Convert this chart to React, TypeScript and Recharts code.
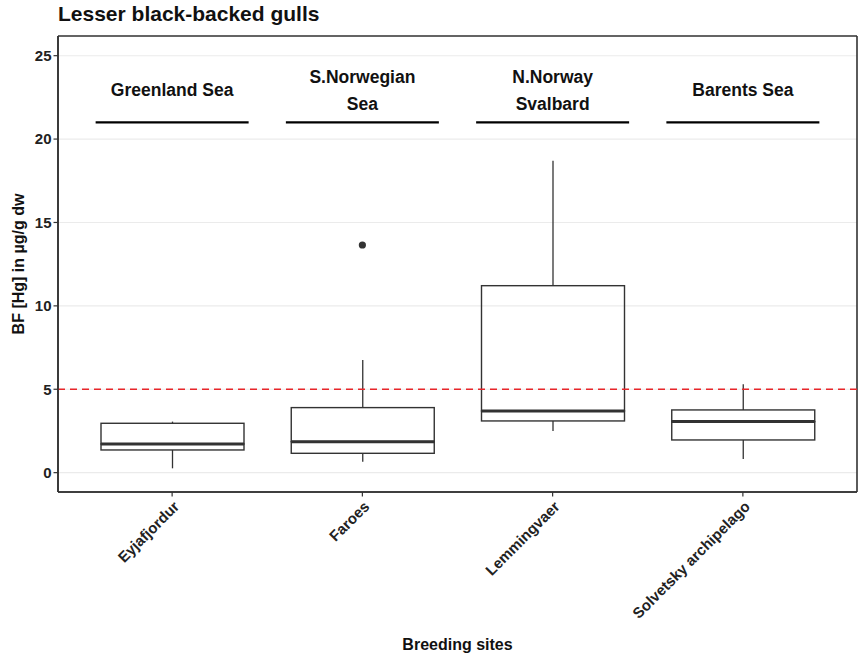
import React from 'react';
import { ComposedChart, Bar, XAxis, YAxis, CartesianGrid, ReferenceLine, ReferenceDot } from 'recharts';

// ---- data ----
const categories = ['Eyjafjordur', 'Faroes', 'Lemmingvaer', 'Solvetsky archipelago'];
const lowerWhisker = [0.26, 0.66, 2.5, 0.82];
const q1 = [1.36, 1.16, 3.1, 1.96];
const median = [1.72, 1.86, 3.7, 3.06];
const q3 = [2.96, 3.9, 11.21, 3.76];
const upperWhisker = [3.06, 6.76, 18.7, 5.3];
const outlierSites = ['Faroes'];
const outlierValues = [13.65];
const regions = [['Greenland Sea'], ['S.Norwegian', 'Sea'], ['N.Norway', 'Svalbard'], ['Barents Sea']];
const regionLineLevel = 21;
const regionLabelLevel = 22.94;
const threshold = 5;
const yTicks = [0, 5, 10, 15, 20, 25];

const data = categories.map((name, i) => ({
  name,
  base: lowerWhisker[i],
  wLow: q1[i] - lowerWhisker[i],
  boxLow: median[i] - q1[i],
  boxHigh: q3[i] - median[i],
  wHigh: upperWhisker[i] - q3[i],
}));

const FONT = '"Liberation Sans", Arial, Helvetica, sans-serif';
const INK = '#333333';
const BOX_WIDTH = 143;
const SEGMENT_HALF = 76.5;

const Empty = () => null;

const Whisker = (p: any) => {
  const { x, y, width, height } = p;
  if (x == null || y == null) return null;
  const cx = x + width / 2;
  return <line x1={cx} x2={cx} y1={y} y2={y + height} stroke={INK} strokeWidth={1.3} />;
};

const BoxLow = (p: any) => {
  const { x, y, width, height } = p;
  if (x == null || y == null) return null;
  return (
    <g>
      <rect x={x} y={y} width={width} height={height} fill="none" stroke={INK} strokeWidth={1.4} />
      <line x1={x} x2={x + width} y1={y} y2={y} stroke={INK} strokeWidth={3} />
    </g>
  );
};

const BoxHigh = (p: any) => {
  const { x, y, width, height } = p;
  if (x == null || y == null) return null;
  return <rect x={x} y={y} width={width} height={height} fill="none" stroke={INK} strokeWidth={1.4} />;
};

const XTick = (p: any) => {
  const { x, y, payload } = p;
  return (
    <text
      transform={`translate(${x + 8},${y + 9}) rotate(-45)`}
      textAnchor="end"
      fontSize={15}
      fontWeight="bold"
      fill="#222"
      fontFamily={FONT}
    >
      {payload.value}
    </text>
  );
};

const YTitle = (p: any) => {
  const vb = p.viewBox || {};
  const cx = (vb.x ?? 0) + 18;
  const cy = (vb.y ?? 0) + (vb.height ?? 0) / 2;
  return (
    <text
      x={cx}
      y={cy}
      transform={`rotate(-90,${cx},${cy})`}
      textAnchor="middle"
      dominantBaseline="central"
      fontSize={16}
      fontWeight="bold"
      fill="#111"
      fontFamily={FONT}
    >
      BF [Hg] in µg/g dw
    </text>
  );
};

const XTitle = (p: any) => {
  const vb = p.viewBox || {};
  const cx = (vb.x ?? 0) + (vb.width ?? 0) / 2;
  const by = (vb.y ?? 0) + (vb.height ?? 0) - 4;
  return (
    <text x={cx} y={by} textAnchor="middle" fontSize={16} fontWeight="bold" fill="#111" fontFamily={FONT}>
      Breeding sites
    </text>
  );
};

const makeRegionLabel = (lines: string[]) => (p: any) => {
  const { cx, cy } = p;
  if (cx == null || cy == null) return null;
  const lh = 26.7;
  const first = cy + 6.3 - ((lines.length - 1) * lh) / 2;
  return (
    <text x={cx} y={first} textAnchor="middle" fontSize={17.5} fontWeight="bold" fill="#111" fontFamily={FONT}>
      {lines.map((l, i) => (
        <tspan key={i} x={cx} dy={i === 0 ? 0 : lh}>
          {l}
        </tspan>
      ))}
    </text>
  );
};

const RegionSegment = (p: any) => {
  const { cx, cy } = p;
  if (cx == null || cy == null) return null;
  return <line x1={cx - SEGMENT_HALF} x2={cx + SEGMENT_HALF} y1={cy} y2={cy} stroke="#000" strokeWidth={2.3} />;
};

export default function App() {
  return (
    <div style={{ position: 'absolute', left: 0, top: 0, width: 861, height: 654, background: '#fff' }}>
      <div
        style={{
          position: 'absolute',
          left: 58,
          top: 3,
          fontFamily: FONT,
          fontSize: 21,
          lineHeight: '21px',
          fontWeight: 'bold',
          color: '#111',
          whiteSpace: 'nowrap',
        }}
      >
        Lesser black-backed gulls
      </div>
      <ComposedChart
        width={861}
        height={654}
        data={data}
        margin={{ top: 36, right: 4, bottom: 0, left: 0 }}
        barSize={BOX_WIDTH}
        style={{ fontFamily: FONT }}
      >
        <CartesianGrid vertical={false} stroke="#ebebeb" strokeWidth={1.1} />
        <CartesianGrid
          stroke={INK}
          strokeWidth={1.6}
          horizontalCoordinatesGenerator={(props: any) => [props.offset.top, props.offset.top + props.offset.height]}
          verticalCoordinatesGenerator={(props: any) => [props.offset.left, props.offset.left + props.offset.width]}
        />
        <XAxis
          dataKey="name"
          type="category"
          padding={{ left: 19, right: 19 }}
          height={162}
          tickSize={4.5}
          tickMargin={2}
          tickLine={{ stroke: INK, strokeWidth: 1.2 }}
          axisLine={{ stroke: INK, strokeWidth: 1.6 }}
          tick={<XTick />}
          interval={0}
          label={<XTitle />}
        />
        <YAxis
          type="number"
          domain={[-1.16, 26.18]}
          ticks={yTicks}
          allowDataOverflow
          width={58}
          tickSize={4.5}
          tickMargin={2}
          tickLine={{ stroke: INK, strokeWidth: 1.2 }}
          axisLine={{ stroke: INK, strokeWidth: 1.6 }}
          tick={{ fill: '#222', fontSize: 15, fontWeight: 'bold', fontFamily: FONT }}
          label={<YTitle />}
        />
        <Bar dataKey="base" stackId="box" shape={<Empty />} isAnimationActive={false} />
        <Bar dataKey="wLow" stackId="box" shape={<Whisker />} isAnimationActive={false} />
        <Bar dataKey="boxLow" stackId="box" shape={<BoxLow />} isAnimationActive={false} />
        <Bar dataKey="boxHigh" stackId="box" shape={<BoxHigh />} isAnimationActive={false} />
        <Bar dataKey="wHigh" stackId="box" shape={<Whisker />} isAnimationActive={false} />
        <ReferenceLine y={threshold} stroke="#e8262a" strokeWidth={1.7} strokeDasharray="7 5" />
        {regions.map((lines, i) => (
          <ReferenceDot
            key={'seg' + i}
            x={categories[i]}
            y={regionLineLevel}
            r={0}
            shape={<RegionSegment />}
          />
        ))}
        {regions.map((lines, i) => (
          <ReferenceDot
            key={'lab' + i}
            x={categories[i]}
            y={regionLabelLevel}
            r={0}
            shape={makeRegionLabel(lines)}
          />
        ))}
        {outlierSites.map((s, i) => (
          <ReferenceDot key={'out' + i} x={s} y={outlierValues[i]} r={3.6} fill={INK} stroke="none" />
        ))}
      </ComposedChart>
    </div>
  );
}
